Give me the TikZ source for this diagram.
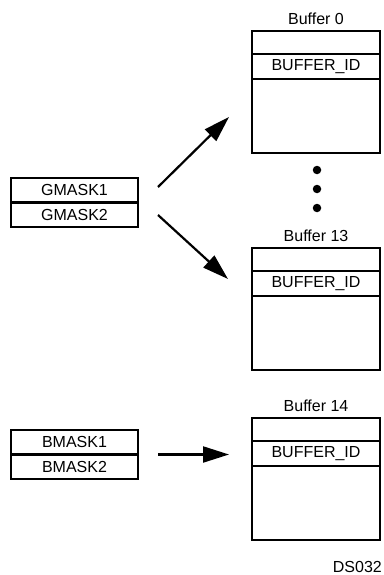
\documentclass[tikz,border=0pt]{standalone}
\usepackage{fontspec}
\setmainfont{Liberation Sans}
\usetikzlibrary{arrows.meta,positioning}

\begin{document}
\begin{tikzpicture}[x=1pt,y=-1pt,
    every node/.style={font=\fontsize{16}{18}\selectfont},
    cell/.style={draw,line width=2.3pt,inner sep=0pt,outer sep=0pt},
    maskrow/.style={cell,minimum width=127pt,minimum height=24.5pt},
    toprow/.style={cell,minimum width=128pt,minimum height=23pt},
    idrow/.style={cell,minimum width=128pt,minimum height=25pt},
    bodyrow/.style={cell,minimum width=128pt,minimum height=74pt},
    bufname/.style={inner sep=0pt,above=6pt of #1},
    dot/.style={circle,fill,inner sep=0pt,minimum size=8.5pt},
    arr/.style={-{Triangle[length=26pt,width=16pt]},line width=2.2pt}]
        \useasboundingbox (0,0) rectangle (383,575);
        % mask registers
        \node[maskrow] (gm1) at (74.5,190.25) {GMASK1};
        \node[maskrow,below=0pt of gm1] (gm2) {GMASK2};
        \node[maskrow] (bm1) at (74.5,442.25) {BMASK1};
        \node[maskrow,below=0pt of bm1] (bm2) {BMASK2};
        % buffer 0
        \node[toprow] (b0top) at (316,42.5) {};
        \node[idrow,below=0pt of b0top] (b0id) {BUFFER\_ID};
        \node[bodyrow,below=0pt of b0id] (b0body) {};
        \node[bufname=b0top] (b0name) {Buffer 0};
        % buffer 13
        \node[toprow] (b13top) at (316,259.5) {};
        \node[idrow,below=0pt of b13top] (b13id) {BUFFER\_ID};
        \node[bodyrow,below=0pt of b13id] (b13body) {};
        \node[bufname=b13top] (b13name) {Buffer 13};
        % buffer 14
        \node[toprow] (b14top) at (316,429.5) {};
        \node[idrow,below=0pt of b14top] (b14id) {BUFFER\_ID};
        \node[bodyrow,below=0pt of b14id] (b14body) {};
        \node[bufname=b14top] (b14name) {Buffer 14};
        % dots between buffers
        \node[dot] (dot1) at (317,170) {};
        \node[dot] (dot2) at (317,189) {};
        \node[dot] (dot3) at (317,208) {};
        % arrows
        \coordinate (g0tail) at (158,187);
        \coordinate (g0tip) at (229,117);
        \coordinate (g13tail) at (158,215);
        \coordinate (g13tip) at (228,279);
        \draw[arr] (g0tail) -- (g0tip);
        \draw[arr] (g13tail) -- (g13tip);
        \draw[arr,shorten <=20pt,shorten >=23pt]
          (bm1.south east) -- (bm1.south east -| b14id.west);
        \node[anchor=south east,inner sep=0pt] (dsno) at (382,573) {DS032};
      \end{tikzpicture}
\end{document}
